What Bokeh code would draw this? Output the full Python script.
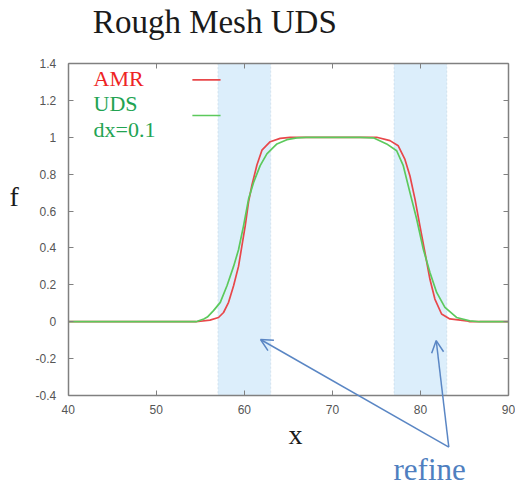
from bokeh.plotting import figure
from bokeh.models import (LinearAxis, FixedTicker, BoxAnnotation, Label, Arrow,
                          OpenHead, Range1d)
from bokeh.embed import file_html
from bokeh.resources import INLINE

# ---- data ----
amr_x = [40, 54.5, 56.1, 57.07, 57.64, 58.21, 58.78, 59.34, 59.72, 60.10, 60.48,
         60.86, 61.43, 62.0, 62.94, 64.07, 65.2, 75.03, 76.54, 77.48, 78.24,
         78.81, 79.38, 79.94, 80.51, 81.08, 81.64, 82.4, 83.34, 85.23, 85.6, 90]
amr_f = [0, 0, 0.009, 0.023, 0.05, 0.105, 0.195, 0.30, 0.41, 0.52, 0.65,
         0.74, 0.85, 0.93, 0.976, 0.994, 1.0, 1.0, 0.982, 0.954, 0.88,
         0.79, 0.665, 0.52, 0.376, 0.23, 0.123, 0.042, 0.015, 0.005, 0, 0]

uds_x = [40, 54.5, 55.4, 55.8, 56.5, 57.27, 58.03, 58.78, 59.34, 59.91, 60.48,
         61.05, 61.8, 62.56, 63.7, 64.83, 65.96, 67, 73.14, 74.65, 76.16, 77.3,
         78.05, 78.81, 79.57, 80.32, 81.08, 81.84, 82.78, 84.1, 85.6, 86.7, 90]
uds_f = [0, 0, 0.015, 0.025, 0.06, 0.105, 0.195, 0.30, 0.39, 0.52, 0.665,
         0.755, 0.846, 0.91, 0.964, 0.987, 0.997, 1.0, 1.0, 0.997, 0.964, 0.927,
         0.846, 0.70, 0.557, 0.394, 0.267, 0.159, 0.078, 0.023, 0.005, 0, 0]

refine_start = [57, 77]
refine_end = [63, 83]

x_min, x_max = 40, 90
y_min, y_max = -0.4, 1.4
x_ticks = [40, 50, 60, 70, 80, 90]
x_tick_labels = ["40", "50", "60", "70", "80", "90"]
y_ticks = [-0.4, -0.2, 0, 0.2, 0.4, 0.6, 0.8, 1, 1.2, 1.4]
y_tick_labels = ["-0.4", "-0.2", "0", "0.2", "0.4", "0.6", "0.8", "1", "1.2", "1.4"]

series_names = ["AMR", "UDS"]
series_note = "dx=0.1"
title_text = "Rough Mesh UDS"
x_label = "x"
y_label = "f"
note_text = "refine"

# ---- styles ----
RED = "#E8474A"
GREEN = "#5CC95C"
RED_TXT = "#EE2424"
GREEN_TXT = "#22A352"
AX = "#808080"
BLUE = "#5A86C4"
SERIF = "Liberation Serif"
SANS = "Liberation Sans"

# The frame fills the whole canvas so that annotations outside the axes box
# (title, labels, arrows) are not clipped; axes are pinned at the box edges.
p = figure(width=515, height=487,
           x_range=Range1d(32.31, 90.795), y_range=Range1d(-0.8988, 1.7416),
           output_backend="svg", toolbar_location=None,
           x_axis_location=None, y_axis_location=None, min_border=0)
p.outline_line_color = None
p.xgrid.visible = False
p.ygrid.visible = False
p.background_fill_color = "white"
p.border_fill_color = "white"


def make_axis(ticks, labels, loc, bounds, show_labels, standoff):
    kw = {}
    if labels is not None:
        kw["major_label_overrides"] = dict(zip(ticks, labels))
    ax = LinearAxis(ticker=FixedTicker(ticks=ticks), fixed_location=loc,
                    bounds=bounds, **kw)
    ax.axis_line_color = AX
    ax.axis_line_width = 1.5
    ax.major_tick_line_color = AX
    ax.major_tick_line_width = 1
    ax.major_tick_in = 5
    ax.major_tick_out = 0
    ax.minor_tick_line_color = None
    if show_labels:
        ax.major_label_text_font = SANS
        ax.major_label_text_font_size = "12px"
        ax.major_label_text_color = "#555555"
        ax.major_label_standoff = standoff
    else:
        ax.major_label_text_color = None
    return ax


p.add_layout(make_axis(x_ticks, x_tick_labels, y_min, (x_min, x_max), True, 9), "below")
p.add_layout(make_axis(y_ticks, y_tick_labels, x_min, (y_min, y_max), True, 12), "left")
p.add_layout(make_axis(x_ticks, None, y_max, (x_min, x_max), False, 0), "above")
p.add_layout(make_axis(y_ticks, None, x_max, (y_min, y_max), False, 0), "right")

for a, b in zip(refine_start, refine_end):
    p.add_layout(BoxAnnotation(left=a, right=b, bottom=y_min, top=y_max,
                               fill_color="#DCEEFB", fill_alpha=1,
                               line_color="#A3B8CE", line_dash="2 2", line_width=1,
                               level="underlay"))

p.line(amr_x, amr_f, line_color=RED, line_width=1.7)
p.line(uds_x, uds_f, line_color=GREEN, line_width=1.7)


def add_text(x, y, text, size, color):
    p.add_layout(Label(x=x, y=y, text=text, text_font=SERIF, text_font_size=size,
                       text_color=color, text_baseline="alphabetic"))


# legend (gnuplot style: text then sample)
add_text(42.87, 1.321, series_names[0], "22px", RED_TXT)
add_text(42.87, 1.185, series_names[1], "22px", GREEN_TXT)
add_text(42.87, 1.044, series_note, "22px", GREEN_TXT)
p.segment(x0=[54.1], y0=[1.311], x1=[57.3], y1=[1.311], line_color=RED, line_width=1.7)
p.segment(x0=[54.1], y0=[1.118], x1=[57.3], y1=[1.118], line_color=GREEN, line_width=1.7)

# title and axis labels
add_text(42.80, 1.625, title_text, "33px", "#1a1a1a")
add_text(33.33, 0.677, y_label, "28px", "#1a1a1a")
add_text(65.02, -0.610, x_label, "28px", "#1a1a1a")
add_text(76.94, -0.799, note_text, "31px", "#4F7FC0")

for ex, ey in [(61.84, -0.0965), (81.79, -0.102)]:
    p.add_layout(Arrow(end=OpenHead(size=12, line_color=BLUE, line_width=1.5),
                       x_start=83.22, y_start=-0.680, x_end=ex, y_end=ey,
                       line_color=BLUE, line_width=1.5, level="overlay"))

open("out.html", "w").write(file_html(p, INLINE))
